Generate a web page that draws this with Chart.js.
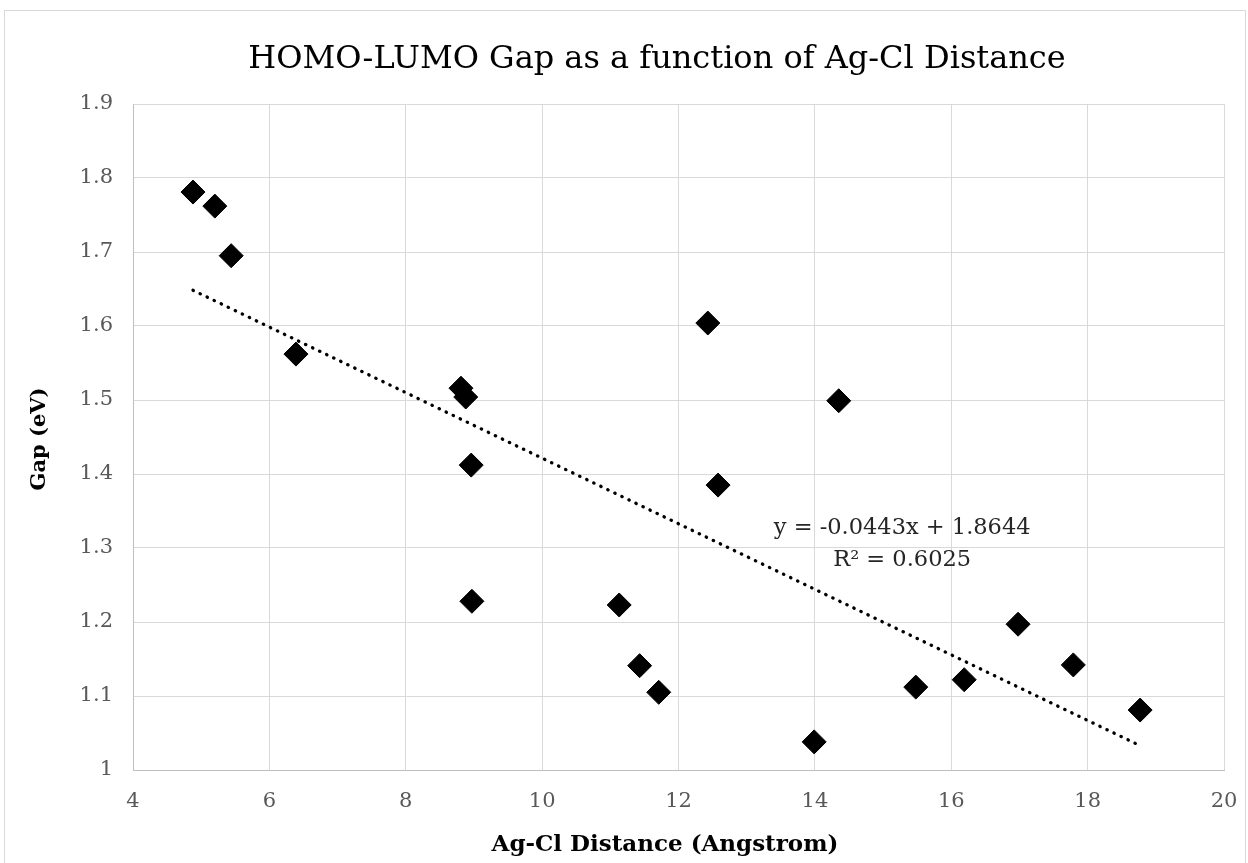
<!DOCTYPE html>
<html>
<head>
<meta charset="utf-8">
<script src="https://cdn.jsdelivr.net/npm/chart.js@4/dist/chart.umd.min.js"></script>
<style>
  html, body { margin: 0; padding: 0; background: #ffffff; overflow: hidden; }
  #c { display: block; }
</style>
</head>
<body>
<canvas id="c" width="1248" height="863"></canvas>
<script>
// ---- data ----
const distances = [4.88, 5.20, 5.44, 6.39, 8.81, 8.88, 8.96, 8.97, 11.13, 11.43, 11.71, 12.43, 12.58, 13.99, 14.35, 15.48, 16.19, 16.98, 17.79, 18.77];
const gaps      = [1.781, 1.762, 1.695, 1.562, 1.516, 1.504, 1.412, 1.228, 1.223, 1.141, 1.105, 1.604, 1.385, 1.038, 1.499, 1.112, 1.122, 1.197, 1.142, 1.081];
const trendSlope = -0.0443;
const trendIntercept = 1.8644;
const trendR2 = 0.6025;
const xTicks = [4, 6, 8, 10, 12, 14, 16, 18, 20];
const yTicks = [1, 1.1, 1.2, 1.3, 1.4, 1.5, 1.6, 1.7, 1.8, 1.9];
const titleText = 'HOMO-LUMO Gap as a function of Ag-Cl Distance';
const xTitle = 'Ag-Cl Distance (Angstrom)';
const yTitle = 'Gap (eV)';
const eqLine1 = 'y = -0.0443x + 1.8644';
const eqLine2 = 'R² = 0.6025';

const points = distances.map((x, i) => ({ x: x, y: gaps[i] }));
const xMin = Math.min(...distances), xMax = Math.max(...distances);
const trendPoints = [
  { x: xMin, y: trendSlope * xMin + trendIntercept },
  { x: xMax, y: trendSlope * xMax + trendIntercept }
];

const SERIF = '"DejaVu Serif", "Liberation Serif", serif';

const decor = {
  id: 'decor',
  beforeDraw(chart) {
    const ctx = chart.ctx;
    ctx.save();
    ctx.fillStyle = '#ffffff';
    ctx.fillRect(0, 0, chart.width, chart.height);
    ctx.strokeStyle = '#d9d9d9';
    ctx.lineWidth = 1;
    ctx.strokeRect(4.5, 10.5, 1241, 900);
    ctx.restore();
  },
  afterDraw(chart) {
    const ctx = chart.ctx;
    const xs = chart.scales.x, ys = chart.scales.y;
    ctx.save();
    ctx.textAlign = 'center';
    ctx.textBaseline = 'middle';

    // chart title
    ctx.fillStyle = '#000000';
    ctx.font = '32px ' + SERIF;
    ctx.fillText(titleText, 657, 60);

    // axis titles
    ctx.font = 'bold 23px ' + SERIF;
    ctx.fillText(xTitle, 665, 845);
    ctx.save();
    ctx.translate(40, 439);
    ctx.rotate(-Math.PI / 2);
    ctx.font = 'bold 21px ' + SERIF;
    ctx.fillText(yTitle, 0, 0);
    ctx.restore();

    // trendline label
    ctx.fillStyle = '#262626';
    ctx.font = '22.5px ' + SERIF;
    const cx = xs.getPixelForValue(15.28);
    ctx.fillText(eqLine1, cx, ys.getPixelForValue(1.327));
    ctx.fillText(eqLine2, cx, ys.getPixelForValue(1.284));
    ctx.restore();
  }
};

new Chart(document.getElementById('c'), {
  type: 'scatter',
  data: {
    datasets: [
      {
        label: 'Gap',
        data: points,
        pointStyle: 'rectRot',
        pointRadius: 12,
        pointHoverRadius: 12,
        backgroundColor: '#000000',
        borderColor: '#000000',
        borderWidth: 1,
        order: 1
      },
      {
        label: 'Linear trend',
        type: 'line',
        data: trendPoints,
        showLine: true,
        pointRadius: 0,
        borderColor: '#000000',
        borderWidth: 3.3,
        borderDash: [0.4, 7.4],
        borderCapStyle: 'round',
        fill: false,
        order: 2
      }
    ]
  },
  options: {
    responsive: false,
    animation: false,
    events: [],
    layout: { padding: { top: 104, right: 24, bottom: 0, left: 0 } },
    plugins: {
      legend: { display: false },
      title: { display: false },
      tooltip: { enabled: false }
    },
    scales: {
      x: {
        type: 'linear',
        min: 4, max: 20,
        afterBuildTicks(scale) { scale.ticks = xTicks.map(v => ({ value: v })); },
        afterFit(scale) { scale.height = 93; scale.paddingRight = 0; scale.paddingLeft = 0; },
        grid: { color: '#d9d9d9', lineWidth: 1, drawTicks: false },
        border: { color: '#bfbfbf', width: 1 },
        ticks: {
          padding: 19,
          color: '#595959',
          font: { family: SERIF, size: 21 },
          callback: v => String(v)
        },
        title: { display: false }
      },
      y: {
        type: 'linear',
        min: 1, max: 1.9,
        afterBuildTicks(scale) { scale.ticks = yTicks.map(v => ({ value: v })); },
        afterFit(scale) { scale.width = 133; },
        grid: { color: '#d9d9d9', lineWidth: 1, drawTicks: false },
        border: { color: '#bfbfbf', width: 1 },
        ticks: {
          padding: 20,
          color: '#595959',
          font: { family: SERIF, size: 21 },
          callback: v => String(Math.round(v * 10) / 10)
        },
        title: { display: false }
      }
    }
  },
  plugins: [decor]
});
</script>
</body>
</html>
